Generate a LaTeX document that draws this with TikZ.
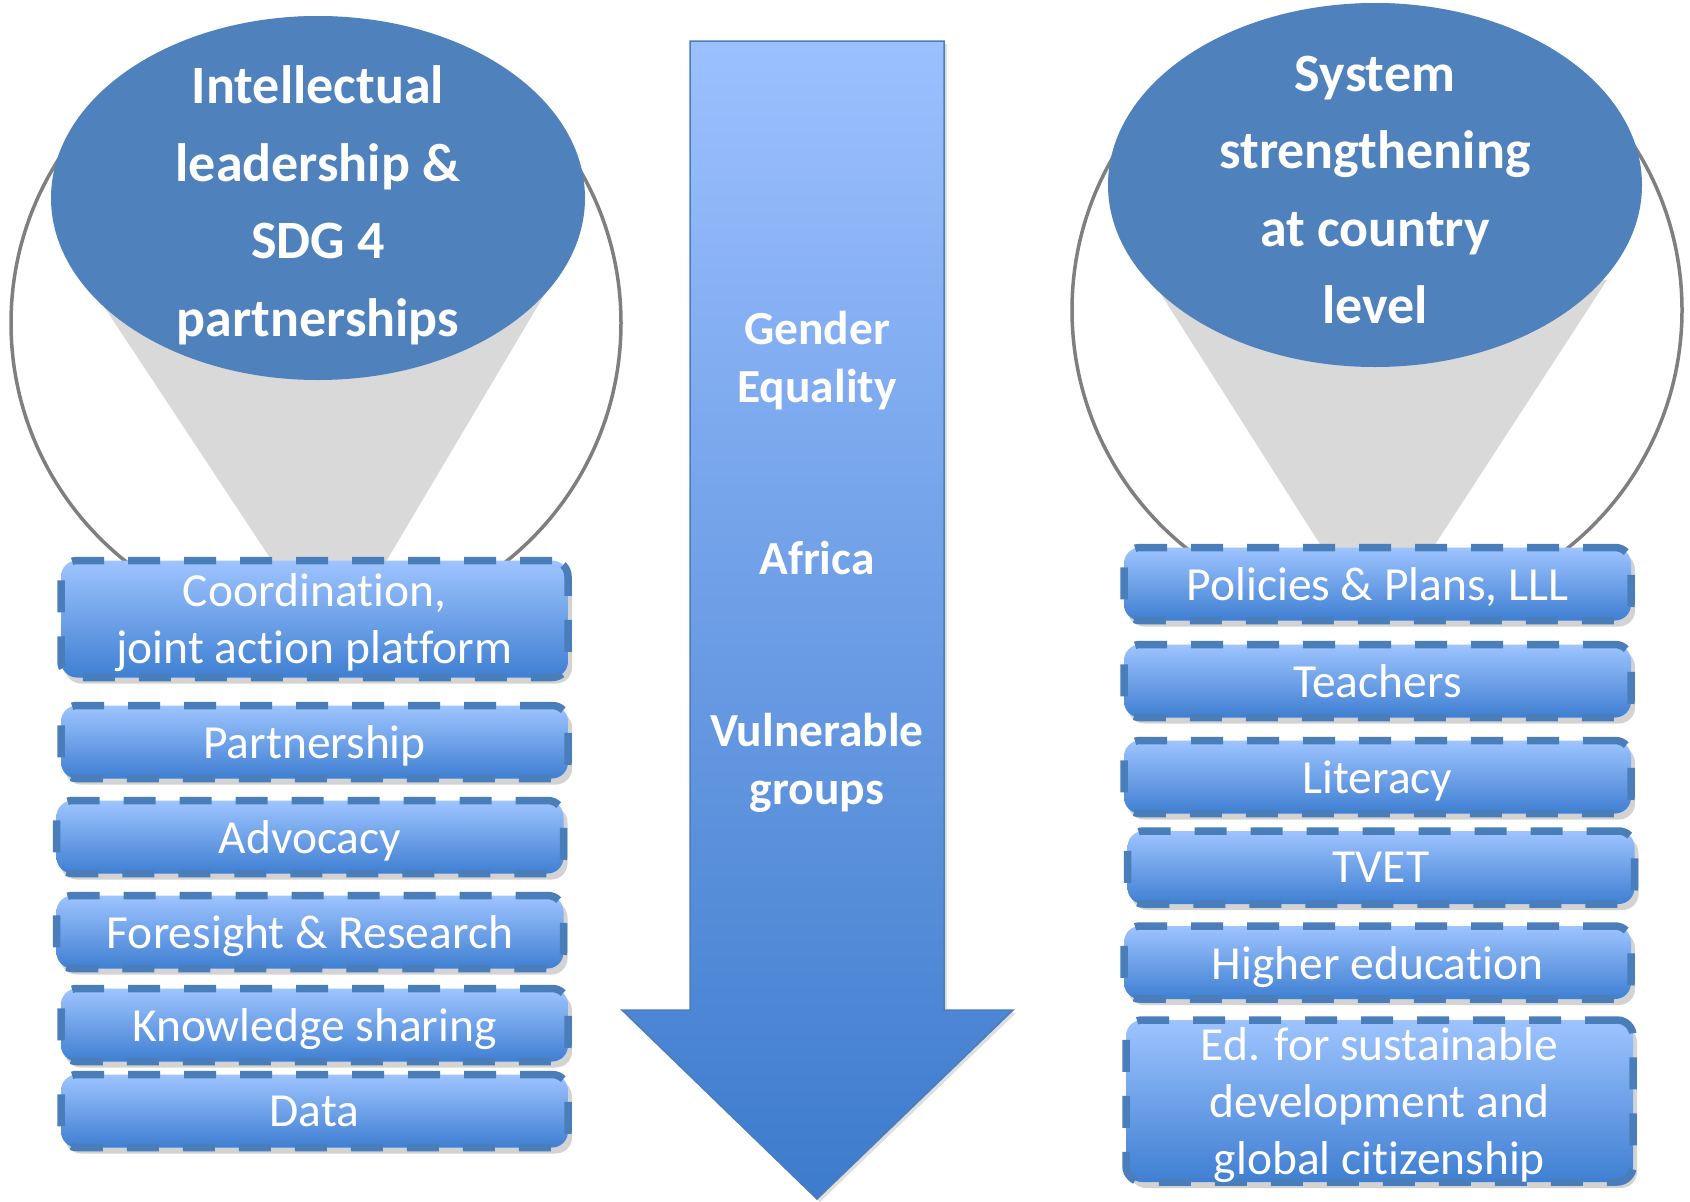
\documentclass[tikz,border=0pt]{standalone}
\usepackage{fontspec}
\setmainfont{Carlito}[Ligatures=NoCommon]
\usetikzlibrary{shadows,shapes.geometric}
\definecolor{ellblue}{HTML}{4F81BD}
\definecolor{boxtop}{HTML}{9EC4FF}
\definecolor{boxbot}{HTML}{3F7FD2}
\definecolor{dashblue}{HTML}{4A7EBB}
\definecolor{conegray}{HTML}{D9D9D9}
\definecolor{ringgray}{HTML}{7F7F7F}
\definecolor{arrtop}{HTML}{9CC0FF}
\definecolor{arrbot}{HTML}{3D7BCC}
\begin{document}
\begin{tikzpicture}[x=1pt,y=-1pt,
  itembox/.style={draw=dashblue, line width=7.5pt, dash pattern=on 32pt off 24pt,
    rounded corners=16pt, top color=boxtop, bottom color=boxbot,
    minimum width=507pt, minimum height=73pt, text=white, text depth=0pt,
    font=\fontsize{47.5}{57}\selectfont, align=center, inner sep=0pt,
    drop shadow={shadow xshift=4pt, shadow yshift=-6pt, opacity=0.35}},
  ring/.style={circle, draw=ringgray, line width=3.5pt, minimum size=610pt, inner sep=0pt},
  bubble/.style={ellipse, fill=ellblue, minimum width=534pt, minimum height=364pt, inner sep=0pt},
  bubbletext/.style={text=white, align=center, text depth=0pt, inner sep=0pt,
    font=\fontsize{54}{77.5}\selectfont\bfseries},
  cone/.style={fill=conegray},
  arrlabel/.style={text=white, align=center, font=\fontsize{47.5}{58}\selectfont\bfseries}
]
\useasboundingbox (0,0) rectangle (1690,1202);

% rings
\node[ring] (lring) at (316,323) {};
\node[ring] (rring) at (1377,310) {};

% cones
\fill[cone] (91,287) -- (549,287) -- (381,570) -- (278,570) -- cycle;
\fill[cone] (1152,280) -- (1607,280) -- (1425,560) -- (1330,560) -- cycle;

% bubbles
\node[bubble] (lbub) at (318,198) {};
\node[bubbletext] (lbubtext) at (318,201) {Intellectual\\leadership \&\\SDG 4\\partnerships};
\node[bubble] (rbub) at (1375,185) {};
\node[bubbletext] (rbubtext) at (1375,190) {System\\strengthening\\at country\\level};

% arrow
\path[draw=dashblue, line width=1.5pt, top color=arrtop, bottom color=arrbot,
  drop shadow={shadow xshift=3pt, shadow yshift=-3pt, opacity=0.25}]
  (690,41) -- (944,41) -- (944,1010) -- (1013,1010) -- (817,1199)
  -- (622,1010) -- (690,1010) -- cycle;
\node[arrlabel] (gender) at (817,361) {Gender\\Equality};
\node[arrlabel] (africa) at (817,558) {Africa};
\node[arrlabel] (vulner) at (817,763) {Vulnerable\\groups};

% left boxes
\node[itembox, minimum height=117pt] (l1) at (314.5,619) {Coordination,\\joint action platform};
\node[itembox] (l2) at (314.5,742) {Partnership};
\node[itembox] (l3) at (310,837) {Advocacy};
\node[itembox] (l4) at (310,932) {Foresight \& Research};
\node[itembox] (l5) at (314.5,1025) {Knowledge sharing};
\node[itembox] (l6) at (314.5,1111) {Data};

% right boxes
\node[itembox] (r1) at (1377.5,584) {Policies \& Plans, LLL};
\node[itembox] (r2) at (1377.5,681) {Teachers};
\node[itembox] (r3) at (1377.5,777) {Literacy};
\node[itembox] (r4) at (1381,867.5) {TVET};
\node[itembox] (r5) at (1377.5,962.5) {Higher education};
\node[itembox, minimum height=162pt] (r6) at (1379.5,1101) {Ed. for sustainable\\development and\\global citizenship};
\end{tikzpicture}
\end{document}
